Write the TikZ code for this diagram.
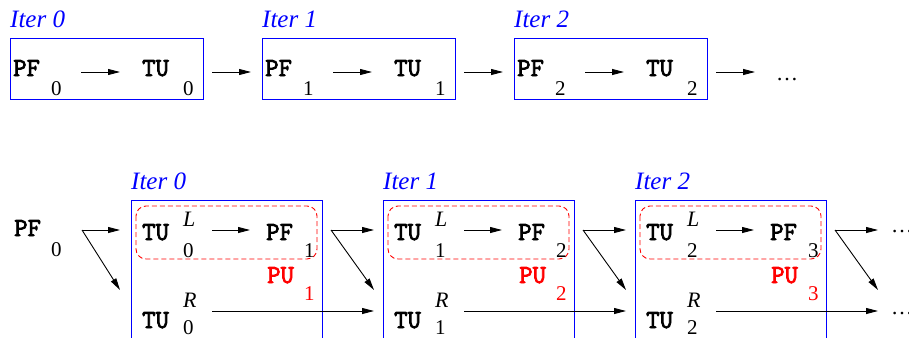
\documentclass[tikz,border=0pt]{standalone}
\usepackage{fontspec}
\setmainfont{Liberation Serif}
\newfontfamily\courb{Latin Modern Mono}[FakeBold=3]
\usetikzlibrary{arrows.meta}
\tikzset{
  bigtt/.style={font=\fontsize{26}{26}\selectfont\courb, anchor=base west, inner sep=0},
  subnum/.style={font=\fontsize{21}{21}\selectfont, anchor=base west, inner sep=0},
  supit/.style={font=\fontsize{22}{22}\selectfont\itshape, anchor=base west, inner sep=0},
  iterlabel/.style={font=\fontsize{25}{25}\selectfont\itshape, text=blue, anchor=base west, inner sep=0},
  dotsl/.style={font=\fontsize{22}{22}\selectfont, anchor=base west, inner sep=0},
  iterbox/.style={draw=blue, line width=1pt},
  pubox/.style={draw=red, dashed, dash pattern=on 5pt off 3pt, line width=0.9pt, rounded corners=10pt},
  arr/.style={-{Triangle[length=12pt,width=6pt]}, line width=0.9pt},
}
\begin{document}
\begin{tikzpicture}[x=1pt,y=-1pt]
\useasboundingbox (0,0) rectangle (909,337);
% ---------- top row ----------
\foreach \i in {0,1,2}{
  \pgfmathsetmacro{\dx}{252*\i}
  \begin{scope}[xshift=\dx pt]
    \node[iterlabel] (tl\i) at (10,28) {Iter \i};
    \draw[iterbox] (10,39) rectangle (203,99);
    \node[bigtt] (tpf\i) at (13,76) {PF};
    \node[subnum] (tpfs\i) at (51,95) {\i};
    \node[bigtt] (ttu\i) at (142,76) {TU};
    \node[subnum] (ttus\i) at (183,95) {\i};
    \coordinate (ta\i) at (81,72);
    \coordinate (tb\i) at (120,72);
    \draw[arr] (ta\i) -- (tb\i);
    \coordinate (tc\i) at (212,72);
    \coordinate (td\i) at (251,72);
    \draw[arr] (tc\i) -- (td\i);
  \end{scope}
}
\node[dotsl] (tdots) at (776,80) {\ldots};
% ---------- bottom row ----------
\node[bigtt] (bpf) at (14,236) {PF};
\node[subnum] (bpfs) at (51,256) {0};
\coordinate (f0) at (82,230);
\coordinate (f0h) at (120,230);
\coordinate (f0d) at (120,290);
\draw[arr] (f0) -- (f0h);
\draw[arr] (f0) -- (f0d);
\foreach \i [evaluate=\i as \j using int(\i+1)] in {0,1,2}{
  \pgfmathsetmacro{\dx}{252*\i}
  \begin{scope}[xshift=\dx pt]
    \node[iterlabel] (bl\i) at (131,189) {Iter \i};
    \draw[iterbox] (131,200) rectangle (322,360);
    \draw[pubox] (136,206) rectangle (317,259);
    \node[bigtt] (tul\i) at (142,240) {TU};
    \node[supit] (tulL\i) at (183,226) {L};
    \node[subnum] (tuls\i) at (183,257) {\i};
    \coordinate (ia\i) at (212,230);
    \coordinate (ib\i) at (250,230);
    \draw[arr] (ia\i) -- (ib\i);
    \node[bigtt] (pfn\i) at (266,240) {PF};
    \node[subnum] (pfns\i) at (304,257) {\j};
    \node[bigtt, text=red] (pu\i) at (267,283) {PU};
    \node[subnum, text=red] (pus\i) at (304,300) {\j};
    \node[bigtt] (tur\i) at (142,328) {TU};
    \node[supit] (turR\i) at (183,307) {R};
    \node[subnum] (turs\i) at (183,334) {\i};
    \coordinate (fs\i) at (331,230);
    \coordinate (fh\i) at (374,230);
    \coordinate (fd\i) at (374,290);
    \draw[arr] (fs\i) -- (fh\i);
    \draw[arr] (fs\i) -- (fd\i);
    \coordinate (ra\i) at (212,311);
    \coordinate (rb\i) at (374,311);
    \draw[arr] (ra\i) -- (rb\i);
  \end{scope}
}
\node[dotsl] (bdots1) at (891,232) {\ldots};
\node[dotsl] (bdots2) at (891,314) {\ldots};
\end{tikzpicture}
\end{document}
